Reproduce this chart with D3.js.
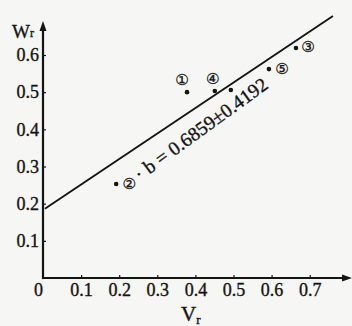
<!DOCTYPE html>
<html>
<head>
<meta charset="utf-8">
<script src="https://cdn.jsdelivr.net/npm/d3@7"></script>
<style>
  html, body { margin: 0; padding: 0; background: #f6f6f4; }
  svg { display: block; }
</style>
</head>
<body>
<svg id="chart" width="352" height="326"></svg>
<script>
// Samples: V_r on the horizontal axis, W_r on the vertical axis
const sampleLabels = ["①", "②", "③", "④", "⑤", ""];
const vValues = [0.378, 0.192, 0.664, 0.451, 0.593, 0.493];
const wValues = [0.500, 0.253, 0.619, 0.503, 0.562, 0.506];

// Fitted line W = a + b·V
const slope = 0.6859;
const slopeError = 0.4192;
const intercept = 0.183;
const fitRange = [0.005, 0.761];

const xTicks = [0, 0.1, 0.2, 0.3, 0.4, 0.5, 0.6, 0.7];
const yTicks = [0.1, 0.2, 0.3, 0.4, 0.5, 0.6];

const svg = d3.select("#chart");
const ink = "#141414";
const serif = "'Liberation Serif', 'Times New Roman', serif";

const x = d3.scaleLinear().domain([0, 0.7]).range([43, 309.7]);
const y = d3.scaleLinear().domain([0, 0.6]).range([278, 55]);

function styleText(sel, size) {
  sel.attr("fill", ink).attr("stroke", ink).attr("stroke-width", 0.35)
    .attr("font-family", serif).attr("font-size", size);
}

// Axes
const xAxis = d3.axisBottom(x).tickValues(xTicks).tickSize(-3).tickPadding(5)
  .tickFormat(d => d === 0 ? "0" : d3.format(".1f")(d));
const gx = svg.append("g").attr("transform", `translate(0,${y(0)})`).call(xAxis);
gx.select(".domain").remove();
gx.selectAll(".tick line").attr("stroke", ink).attr("stroke-width", 1.2);
styleText(gx.selectAll(".tick text"), 18);
gx.selectAll(".tick").filter(d => d === 0).select("line").remove();
gx.selectAll(".tick").filter(d => d === 0).select("text").attr("dx", -5);

const yAxis = d3.axisLeft(y).tickValues(yTicks).tickSize(-3).tickPadding(4)
  .tickFormat(d3.format(".1f"));
const gy = svg.append("g").attr("transform", `translate(${x(0)},0)`).call(yAxis);
gy.select(".domain").remove();
gy.selectAll(".tick line").attr("stroke", ink).attr("stroke-width", 1.2);
styleText(gy.selectAll(".tick text"), 18);

// Axis lines with arrow heads
svg.append("line").attr("x1", x(0)).attr("y1", y(0)).attr("x2", 348).attr("y2", y(0))
  .attr("stroke", ink).attr("stroke-width", 2.2);
svg.append("path").attr("d", `M352,${y(0)} L342,${y(0) - 3.5} L342,${y(0) + 3.5} Z`).attr("fill", ink);
svg.append("line").attr("x1", x(0)).attr("y1", y(0) + 1.1).attr("x2", x(0)).attr("y2", 27)
  .attr("stroke", ink).attr("stroke-width", 2.2);
svg.append("path").attr("d", `M${x(0)},21 L${x(0) - 3.5},31 L${x(0) + 3.5},31 Z`).attr("fill", ink);

// Axis titles
const wt = svg.append("text").attr("x", 12).attr("y", 38);
styleText(wt, 19);
wt.append("tspan").text("W");
wt.append("tspan").attr("font-size", 12).attr("dy", -1).text("r");

const vt = svg.append("text").attr("x", 181).attr("y", 321);
styleText(vt, 21);
vt.append("tspan").text("V");
vt.append("tspan").attr("font-size", 13).attr("dy", 3).text("r");

// Regression line
const fit = v => intercept + slope * v;
svg.append("line")
  .attr("x1", x(fitRange[0])).attr("y1", y(fit(fitRange[0])))
  .attr("x2", x(fitRange[1])).attr("y2", y(fit(fitRange[1])))
  .attr("stroke", ink).attr("stroke-width", 1.9);

// Equation written along the line
const angle = Math.atan2(y(fit(0)) - y(fit(1)), x(1) - x(0)) * 180 / Math.PI;
const labelV = 0.211;
const off = 30;
const rad = angle * Math.PI / 180;
const lx = x(labelV) + off * Math.sin(rad);
const ly = y(fit(labelV)) + off * Math.cos(rad);
const eq = svg.append("text")
  .attr("transform", `translate(${lx},${ly}) rotate(${-(angle + 2.2)})`)
  .text(`· b = ${slope}±${slopeError}`);
styleText(eq, 19.5);

// Sample points and their circled numbers
const pts = svg.append("g");
vValues.forEach((v, i) => {
  pts.append("circle").attr("cx", x(v)).attr("cy", y(wValues[i])).attr("r", 2.3).attr("fill", ink);
});
const labelOffsets = [[-5, -12], [13, 0], [12, -1], [-2, -12], [13, 0], [0, 0]];
vValues.forEach((v, i) => {
  if (!sampleLabels[i]) return;
  pts.append("text")
    .attr("x", x(v) + labelOffsets[i][0]).attr("y", y(wValues[i]) + labelOffsets[i][1])
    .attr("dy", "0.35em").attr("text-anchor", "middle")
    .attr("fill", ink).attr("stroke", ink).attr("stroke-width", 0.3)
    .attr("font-family", "'DejaVu Sans', sans-serif").attr("font-size", 15)
    .text(sampleLabels[i]);
});
</script>
</body>
</html>
